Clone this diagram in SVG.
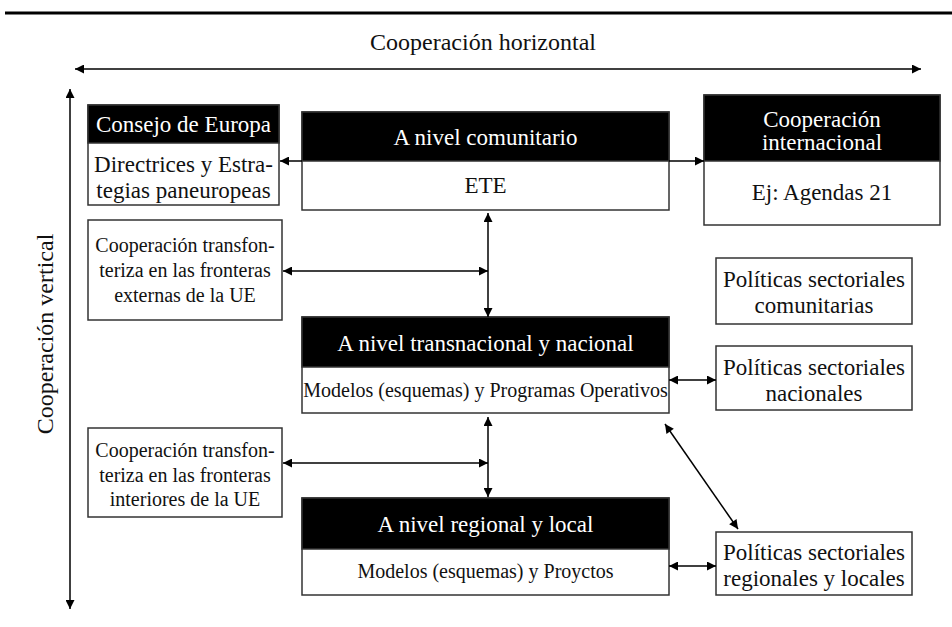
<svg xmlns="http://www.w3.org/2000/svg" width="952" height="627" viewBox="0 0 952 627">
<defs>
<marker id="ah" viewBox="0 0 10 10" refX="10" refY="5" markerWidth="10" markerHeight="9" markerUnits="userSpaceOnUse" orient="auto-start-reverse">
<path d="M0,0 L10,5 L0,10 z" fill="#000"/>
</marker>
<style>
text{fill:#111;text-anchor:middle}
.w{fill:#fff}
.hd{fill:#000;stroke:#333;stroke-width:1.5}
.bx{fill:#fff;stroke:#333;stroke-width:1.5}
.c{stroke:#000;stroke-width:1.5;fill:none}
.t23{font-size:23px}
.t20{font-size:20px}
</style>
</defs>
<rect width="952" height="627" fill="#fff"/>
<g font-family="Liberation Serif, Times New Roman, serif">
<line x1="5" y1="13" x2="952" y2="13" stroke="#000" stroke-width="3"/>
<text x="483" y="50" font-size="24">Cooperación horizontal</text>
<text transform="translate(53,334) rotate(-90)" font-size="24">Cooperación vertical</text>

<g id="consejo">
<rect class="bx" x="88" y="105" width="191" height="100"/>
<rect class="hd" x="88" y="105" width="191" height="38"/>
<text class="t23 w" x="183.5" y="132">Consejo de Europa</text>
<text class="t23" x="183.5" y="172">Directrices y Estra-</text>
<text class="t23" x="183.5" y="198">tegias paneuropeas</text>
</g>
<g id="comunitario">
<rect class="bx" x="302" y="112" width="367" height="98"/>
<rect class="hd" x="302" y="112" width="367" height="49"/>
<text class="t23 w" x="485.5" y="145">A nivel comunitario</text>
<text class="t23" x="485.5" y="193">ETE</text>
</g>
<g id="internacional">
<rect class="bx" x="704" y="95" width="236" height="130"/>
<rect class="hd" x="704" y="95" width="236" height="66"/>
<text class="t23 w" x="822" y="127">Cooperación</text>
<text class="t23 w" x="822" y="150">internacional</text>
<text class="t23" x="822" y="200">Ej: Agendas 21</text>
</g>
<g id="externas">
<rect class="bx" x="88" y="220" width="194" height="100"/>
<text class="t20" x="185" y="252">Cooperación transfon-</text>
<text class="t20" x="185" y="277">teriza en las fronteras</text>
<text class="t20" x="185" y="302">externas de la UE</text>
</g>
<g id="pol-comunitarias">
<rect class="bx" x="716" y="258" width="196" height="66"/>
<text class="t23" x="814" y="287">Políticas sectoriales</text>
<text class="t23" x="814" y="313">comunitarias</text>
</g>
<g id="transnacional">
<rect class="bx" x="302" y="317" width="367" height="96"/>
<rect class="hd" x="302" y="317" width="367" height="50"/>
<text class="t23 w" x="485.5" y="351">A nivel transnacional y nacional</text>
<text class="t20" x="485.5" y="397">Modelos (esquemas) y Programas Operativos</text>
</g>
<g id="pol-nacionales">
<rect class="bx" x="716" y="346" width="196" height="64"/>
<text class="t23" x="814" y="375">Políticas sectoriales</text>
<text class="t23" x="814" y="401">nacionales</text>
</g>
<g id="interiores">
<rect class="bx" x="88" y="428" width="194" height="89"/>
<text class="t20" x="185" y="457">Cooperación transfon-</text>
<text class="t20" x="185" y="482">teriza en las fronteras</text>
<text class="t20" x="185" y="506">interiores de la UE</text>
</g>
<g id="regional">
<rect class="bx" x="302" y="498" width="367" height="97"/>
<rect class="hd" x="302" y="498" width="367" height="51"/>
<text class="t23 w" x="485.5" y="532">A nivel regional y local</text>
<text class="t20" x="485.5" y="578">Modelos (esquemas) y Proyctos</text>
</g>
<g id="pol-regionales">
<rect class="bx" x="716" y="532" width="196" height="63"/>
<text class="t23" x="814" y="560">Políticas sectoriales</text>
<text class="t23" x="814" y="586">regionales y locales</text>
</g>
</g>
<g id="connectors">
<line class="c" x1="75" y1="69" x2="921" y2="69" marker-start="url(#ah)" marker-end="url(#ah)"/>
<line class="c" x1="70" y1="89" x2="70" y2="609" marker-start="url(#ah)" marker-end="url(#ah)"/>
<line class="c" x1="302" y1="161" x2="280" y2="161" marker-end="url(#ah)"/>
<line class="c" x1="669" y1="161" x2="704" y2="161" marker-end="url(#ah)"/>
<line class="c" x1="488" y1="213" x2="488" y2="317" marker-start="url(#ah)" marker-end="url(#ah)"/>
<line class="c" x1="283" y1="271" x2="488" y2="271" marker-start="url(#ah)" marker-end="url(#ah)"/>
<line class="c" x1="488" y1="417" x2="488" y2="497" marker-start="url(#ah)" marker-end="url(#ah)"/>
<line class="c" x1="283" y1="463" x2="488" y2="463" marker-start="url(#ah)" marker-end="url(#ah)"/>
<line class="c" x1="669" y1="380" x2="716" y2="380" marker-start="url(#ah)" marker-end="url(#ah)"/>
<line class="c" x1="669" y1="566" x2="716" y2="566" marker-start="url(#ah)" marker-end="url(#ah)"/>
<line class="c" x1="665" y1="424" x2="738" y2="529" marker-start="url(#ah)" marker-end="url(#ah)"/>
</g>
</svg>
